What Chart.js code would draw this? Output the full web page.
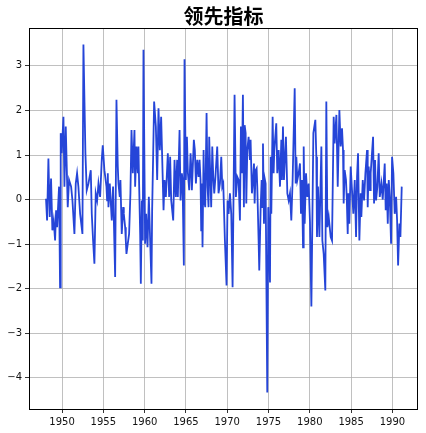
<!DOCTYPE html>
<html>
<head>
<meta charset="utf-8">
<script src="https://cdn.jsdelivr.net/npm/chart.js@4/dist/chart.umd.min.js"></script>
<style>
  html, body { margin: 0; padding: 0; background: #fff; }
  #wrap { width: 426px; height: 433px; }
</style>
</head>
<body>
<div id="wrap"><canvas id="chart" width="426" height="433"></canvas></div>
<script>
const title = "领先指标";

// decimal years of each reading
const dates = [
  1948.06, 1948.19, 1948.35, 1948.51, 1948.67, 1948.83, 1948.99, 1949.16, 1949.28, 1949.40,
  1949.64, 1949.76, 1949.84, 1949.96, 1950.17, 1950.29, 1950.45, 1950.69, 1950.85, 1951.10,
  1951.26, 1951.50, 1951.66, 1951.82, 1951.98, 1952.19, 1952.47, 1952.59, 1952.83, 1952.99,
  1953.20, 1953.48, 1953.60, 1953.76, 1953.92, 1954.08, 1954.25, 1954.41, 1954.61, 1954.81,
  1954.93, 1955.13, 1955.38, 1955.46, 1955.54, 1955.62, 1955.78, 1956.02, 1956.18, 1956.43,
  1956.59, 1956.75, 1956.83, 1956.99, 1957.07, 1957.23, 1957.40, 1957.48, 1957.64, 1957.72,
  1957.80, 1957.96, 1958.12, 1958.28, 1958.41, 1958.49, 1958.57, 1958.77, 1958.85, 1959.01,
  1959.09, 1959.17, 1959.25, 1959.34, 1959.46, 1959.54, 1959.66, 1959.78, 1959.86, 1960.06,
  1960.18, 1960.35, 1960.51, 1960.67, 1960.83, 1960.91, 1961.03, 1961.15, 1961.36, 1961.52,
  1961.68, 1961.84, 1962.00, 1962.29, 1962.41, 1962.57, 1962.81, 1962.97, 1963.09, 1963.22,
  1963.46, 1963.62, 1963.78, 1963.94, 1964.02, 1964.23, 1964.35, 1964.51, 1964.59, 1964.75,
  1964.83, 1964.99, 1965.12, 1965.24, 1965.40, 1965.56, 1965.64, 1965.72, 1965.96, 1966.08,
  1966.21, 1966.37, 1966.53, 1966.65, 1966.77, 1966.85, 1966.93, 1967.01, 1967.14, 1967.22,
  1967.34, 1967.50, 1967.62, 1967.74, 1967.82, 1967.94, 1968.06, 1968.19, 1968.31, 1968.43,
  1968.55, 1968.79, 1968.95, 1969.12, 1969.28, 1969.40, 1969.52, 1969.72, 1969.92, 1970.04,
  1970.17, 1970.33, 1970.49, 1970.65, 1970.89, 1971.05, 1971.22, 1971.38, 1971.54, 1971.66,
  1971.78, 1971.90, 1972.02, 1972.11, 1972.23, 1972.31, 1972.43, 1972.59, 1972.75, 1972.83,
  1972.99, 1973.12, 1973.24, 1973.32, 1973.44, 1973.56, 1973.64, 1973.80, 1973.88, 1974.05,
  1974.17, 1974.25, 1974.33, 1974.45, 1974.57, 1974.65, 1974.85, 1974.97, 1975.18, 1975.26,
  1975.34, 1975.50, 1975.62, 1975.70, 1975.94, 1976.06, 1976.23, 1976.39, 1976.55, 1976.63,
  1976.75, 1976.87, 1977.11, 1977.28, 1977.44, 1977.60, 1977.76, 1977.92, 1978.17, 1978.29,
  1978.37, 1978.49, 1978.65, 1978.81, 1978.93, 1979.05, 1979.18, 1979.26, 1979.38, 1979.54,
  1979.70, 1979.86, 1980.02, 1980.19, 1980.43, 1980.67, 1980.79, 1980.87, 1980.99, 1981.16,
  1981.40, 1981.52, 1981.68, 1981.88, 1982.00, 1982.13, 1982.29, 1982.53, 1982.69, 1982.89,
  1983.01, 1983.22, 1983.38, 1983.58, 1983.74, 1983.90, 1984.02, 1984.10, 1984.22, 1984.38,
  1984.47, 1984.59, 1984.67, 1984.79, 1984.95, 1985.11, 1985.27, 1985.44, 1985.60, 1985.72,
  1985.84, 1986.00, 1986.16, 1986.24, 1986.41, 1986.57, 1986.73, 1986.93, 1987.01, 1987.13,
  1987.29, 1987.37, 1987.66, 1987.78, 1987.90, 1988.02, 1988.18, 1988.34, 1988.47, 1988.67,
  1988.83, 1989.07, 1989.19, 1989.31, 1989.44, 1989.56, 1989.68, 1989.84, 1989.96, 1990.12,
  1990.28, 1990.45, 1990.57, 1990.69, 1990.85, 1990.97, 1991.13
];

const values = [
  0.02, -0.47, 0.92, -0.39, 0.47, -0.69, -0.47, -0.92, -0.24, -0.62,
  0.29, -1.97, 1.49, 1.04, 1.86, 0.29, 1.64, -0.17, 0.44, 0.29,
  -0.02, -0.77, 0.36, 0.59, 0.29, -0.32, -0.77, 3.48, 1.04, 0.21,
  0.36, 0.66, -0.32, -0.92, -1.44, 0.14, -0.02, 0.36, 0.06, 0.89,
  1.22, 0.66, 0.29, -0.02, 0.59, -0.17, 0.36, -0.47, 0.29, -1.74,
  2.24, 0.74, 0.36, 0.06, 0.44, -0.77, -0.17, -0.32, -0.62, -0.92,
  -1.22, -0.99, -0.77, 0.14, 1.56, 1.11, 0.59, 1.56, 0.29, 1.19,
  0.89, 0.59, 1.19, 0.29, -0.77, -1.89, -0.02, -0.92, 3.36, -0.99,
  -0.32, -1.07, 0.06, -0.92, -1.89, -0.24, 0.96, 2.2, 1.64, 0.44,
  2.05, 1.11, 1.86, -0.24, 0.44, 0.06, 1.04, 0.06, 0.96, -0.02,
  -0.47, 0.89, 0.06, 0.89, 0.06, 1.56, -0.02, 0.59, 0.44, -1.48,
  3.15, 0.44, 1.41, 0.59, 0.21, 1.04, 0.74, 0.21, 1.34, 1.11,
  0.36, 0.89, 0.51, 0.89, 0.44, -0.69, 0.36, -1.07, 1.11, -0.02,
  -0.17, 1.94, 0.29, -0.17, 1.41, 0.59, -0.17, 1.19, 0.51, 0.14,
  0.44, 1.19, 0.14, 0.36, 0.96, 0.29, 0.36, -0.92, -1.93, -0.02,
  -0.32, 0.14, -0.32, -1.97, 2.35, 0.06, 0.51, 0.44, -0.47, 1.64,
  0.59, 2.35, -0.17, 1.67, 1.49, -0.09, 1.11, 1.41, 0.89, 1.34,
  0.14, 0.44, 0.81, -0.09, 0.66, 0.7, 0.29, -0.92, -1.59, -0.17,
  0.44, -0.17, 1.26, -0.54, 0.44, 0.36, -4.33, -0.17, -1.86, 0.96,
  -0.32, 1.86, 0.59, 1.11, 1.71, 0.59, 1.11, 0.29, 1.34, 0.44,
  1.64, 0.44, 1.41, 0.14, -0.02, 0.14, -0.47, 0.44, 2.5, 0.36,
  0.96, 0.44, 0.59, 0.81, -0.32, 0.44, -1.07, 1.19, -0.54, 0.59,
  0.06, 0.36, -0.5, -2.4, 1.49, 1.79, 0.96, -0.84, 0.29, -0.84,
  1.19, -0.92, -1.22, -2.04, 2.2, -0.62, -0.39, -0.84, -0.92, 1.86,
  1.26, 1.9, 0.29, 2.01, 1.19, 1.6, 1.11, -0.09, 0.66, 0.44,
  0.06, -0.77, 0.14, -0.54, 0.74, 0.21, -0.32, 0.44, -0.84, 0.51,
  1.04, -0.92, 0.14, -0.39, 0.44, -0.02, 0.59, 1.11, -0.17, 0.74,
  0.21, 0.59, 1.41, -0.09, 0.89, -0.02, 0.29, 1.04, 0.06, 0.36,
  0.0, 0.81, -0.24, 0.36, -0.54, 0.44, 0.06, -0.99, 0.96, 0.59,
  -0.32, 0.06, -0.47, -1.48, -0.54, -0.84, 0.29
];

const xTicks = [1950, 1955, 1960, 1965, 1970, 1975, 1980, 1985, 1990];
const yTicks = [-4, -3, -2, -1, 0, 1, 2, 3];

const points = dates.map((d, i) => ({ x: d, y: values[i] }));

// box round the plot (like matplotlib spines) and the title centred over it
const frame = {
  id: "frame",
  afterDraw(chart) {
    const { ctx, chartArea: a } = chart;
    ctx.save();
    ctx.strokeStyle = "#000";
    ctx.lineWidth = 1;
    ctx.strokeRect(Math.round(a.left) + 0.5, Math.round(a.top) + 0.5,
      Math.round(a.right - a.left) - 1, Math.round(a.bottom - a.top));
    ctx.fillStyle = "#000";
    ctx.font = "bold 20px 'Noto Sans CJK SC'";
    ctx.textAlign = "center";
    ctx.textBaseline = "middle";
    ctx.fillText(title, (a.left + a.right) / 2, 16);
    ctx.restore();
  },
};

const tickFont = { family: "DejaVu Sans", size: 10 };

new Chart(document.getElementById("chart"), {
  type: "line",
  data: {
    datasets: [{
      data: points,
      borderColor: "#2545d8",
      borderWidth: 1.8,
      pointRadius: 0,
      tension: 0,
      fill: false,
    }],
  },
  options: {
    responsive: false,
    animation: false,
    layout: { padding: { left: 0, right: 8, top: 28, bottom: 0 } },
    plugins: {
      legend: { display: false },
      tooltip: { enabled: false },
      title: { display: false },
    },
    scales: {
      x: {
        type: "linear",
        min: 1946.0,
        max: 1993.1,
        afterBuildTicks: (s) => { s.ticks = xTicks.map(v => ({ value: v })); },
        afterFit: (s) => { s.height = 24; },
        ticks: { color: "#111", font: tickFont, padding: 3, maxRotation: 0, callback: (v) => String(v) },
        grid: { color: "#b0b0b0", lineWidth: 0.8, tickColor: "#000", tickLength: 4 },
        border: { display: false },
      },
      y: {
        min: -4.7,
        max: 3.85,
        afterBuildTicks: (s) => { s.ticks = yTicks.map(v => ({ value: v })); },
        afterFit: (s) => { s.width = 29; },
        ticks: { color: "#111", font: tickFont, padding: 3, callback: (v) => (v < 0 ? "\u2212" + Math.abs(v) : String(v)) },
        grid: { color: "#b0b0b0", lineWidth: 0.8, tickColor: "#000", tickLength: 4 },
        border: { display: false },
      },
    },
  },
  plugins: [frame],
});
</script>
</body>
</html>
